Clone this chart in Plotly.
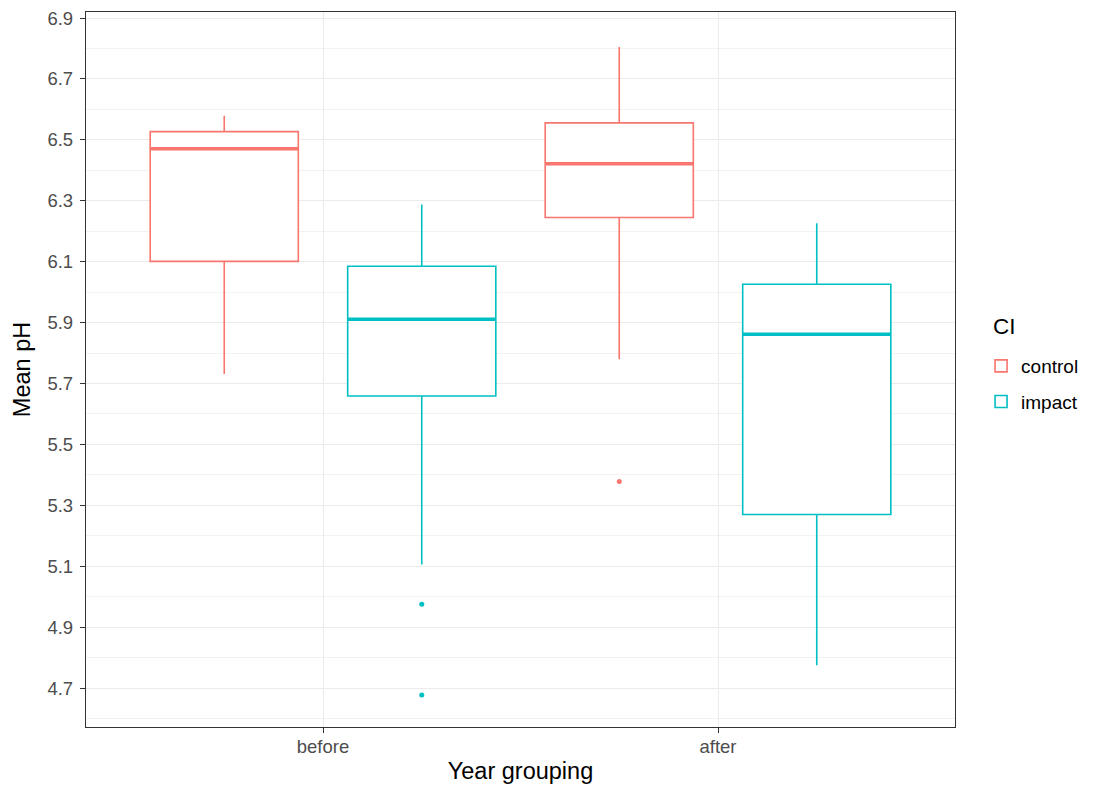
import plotly.graph_objects as go

# Year groups and their positions on the axis
groups = ["before", "after"]
group_pos = [1, 2]

# Box statistics per CI level (one value per year group)
control_q1 = [6.101, 6.245]
control_median = [6.471, 6.422]
control_q3 = [6.527, 6.556]
control_lower = [5.731, 5.780]
control_upper = [6.579, 6.805]
control_outliers = [[], [5.378]]

impact_q1 = [5.659, 5.270]
impact_median = [5.911, 5.862]
impact_q3 = [6.085, 6.026]
impact_lower = [5.106, 4.775]
impact_upper = [6.288, 6.226]
impact_outliers = [[4.975, 4.677], []]

y_ticks = [4.7, 4.9, 5.1, 5.3, 5.5, 5.7, 5.9, 6.1, 6.3, 6.5, 6.7, 6.9]
y_minor = [4.6, 4.8, 5.0, 5.2, 5.4, 5.6, 5.8, 6.0, 6.2, 6.4, 6.6, 6.8]

dodge = 0.25
box_w = 0.375

series = [
    ("control", "#F8766D", -dodge, control_q1, control_median, control_q3,
     control_lower, control_upper, control_outliers),
    ("impact", "#00BFC4", dodge, impact_q1, impact_median, impact_q3,
     impact_lower, impact_upper, impact_outliers),
]

FONT = "Liberation Sans, Arial, sans-serif"
fig = go.Figure()

for name, color, off, q1, med, q3, lo, hi, outs in series:
    xs = [p + off for p in group_pos]
    fig.add_trace(go.Box(
        x=xs, q1=q1, median=med, q3=q3, lowerfence=lo, upperfence=hi,
        width=box_w, name=name, legendgroup=name,
        fillcolor="white", line=dict(color=color, width=1.6),
        whiskerwidth=0, boxpoints=False, hoverinfo="skip",
    ))
    # thicker median bar
    mx, my = [], []
    for x, m in zip(xs, med):
        mx += [x - box_w / 2, x + box_w / 2, None]
        my += [m, m, None]
    fig.add_trace(go.Scatter(
        x=mx, y=my, mode="lines", line=dict(color=color, width=3.5),
        showlegend=False, legendgroup=name, hoverinfo="skip",
    ))
    # outlying points
    ox, oy = [], []
    for x, vals in zip(xs, outs):
        for v in vals:
            ox.append(x)
            oy.append(v)
    if ox:
        fig.add_trace(go.Scatter(
            x=ox, y=oy, mode="markers",
            marker=dict(color=color, size=5),
            showlegend=False, legendgroup=name, hoverinfo="skip",
        ))

axis_common = dict(
    automargin=False,
    showline=True, mirror=True, linecolor="#333333", linewidth=1.3,
    ticks="outside", ticklen=5, tickcolor="#333333", tickwidth=1.3,
    tickfont=dict(family=FONT, size=18.5, color="#4d4d4d"),
    gridcolor="#ebebeb", gridwidth=1.3, zeroline=False,
)

fig.update_layout(
    width=1100, height=791,
    margin=dict(l=86, r=145, t=12, b=64),
    paper_bgcolor="white", plot_bgcolor="white",
    boxmode="overlay",
    font=dict(family=FONT, color="black"),
    xaxis=dict(
        axis_common, range=[0.4, 2.6], tickvals=group_pos, ticktext=groups,
        ticklabelstandoff=-2,
        title=dict(text="Year grouping", font=dict(family=FONT, size=23.5, color="black"),
                   standoff=6),
    ),
    yaxis=dict(
        axis_common, range=[4.572, 6.92], tickvals=y_ticks,
        ticktext=[f"{v:.1f}" for v in y_ticks],
        ticklabelstandoff=3,
        minor=dict(tickvals=y_minor, showgrid=True, gridcolor="#f2f2f2",
                   gridwidth=0.8, ticks=""),
        title=dict(text="Mean pH", font=dict(family=FONT, size=23.5, color="black"),
                   standoff=10),
    ),
    legend=dict(
        x=1.03, xanchor="left", y=0.5315, yanchor="top",
        font=dict(family=FONT, size=19, color="black"),
        bgcolor="rgba(0,0,0,0)", tracegroupgap=8, itemwidth=30,
    ),
    annotations=[dict(
        text="CI", xref="paper", yref="paper", x=1.041, y=0.5608,
        xanchor="left", yanchor="middle", showarrow=False,
        font=dict(family=FONT, size=22.5, color="black"),
    )],
)

fig.write_html("out.html")
